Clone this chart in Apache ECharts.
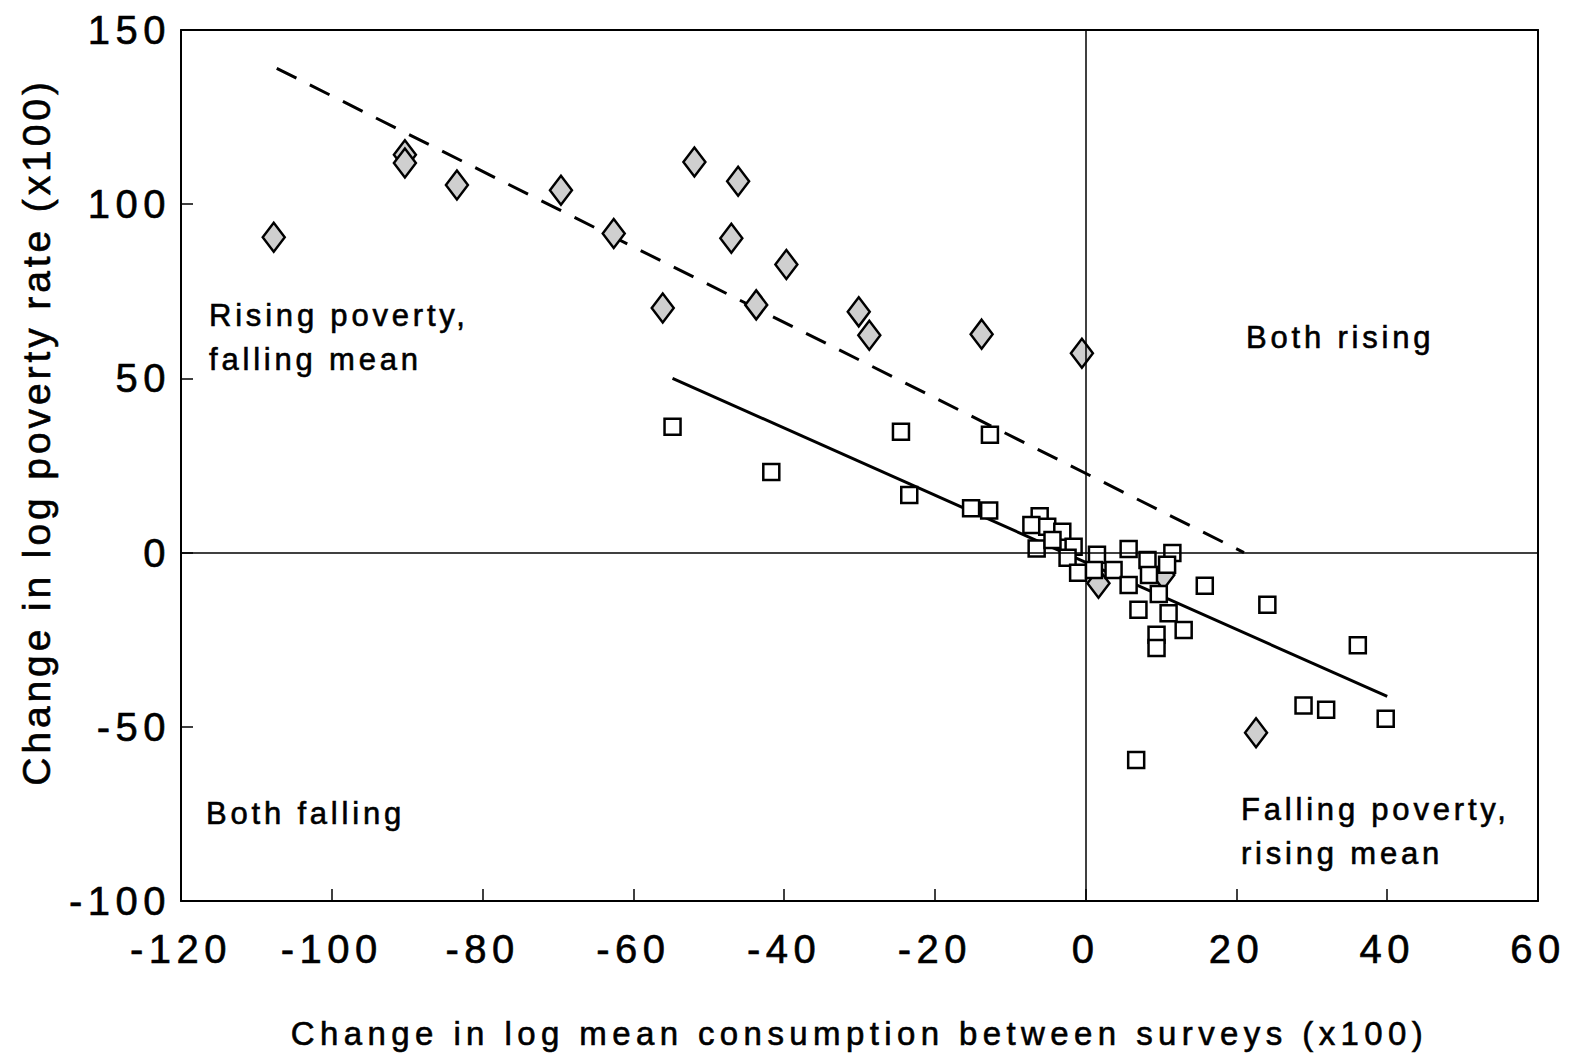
<!DOCTYPE html>
<html>
<head>
<meta charset="utf-8">
<script src="https://cdn.jsdelivr.net/npm/echarts@6/dist/echarts.min.js"></script>
<style>
html,body{margin:0;padding:0;background:#fff;width:1579px;height:1057px;overflow:hidden}
#c{width:1579px;height:1057px;overflow:hidden}
#c svg{display:block}
#c svg text{letter-spacing:4px;stroke:#000;stroke-width:0.6px}
#c svg text[style*="40px"]{letter-spacing:5.5px}
#c svg text[style*="33px"]{letter-spacing:5.4px}
#c svg text[style*="39px"]{letter-spacing:3.9px}
#c svg text[style*="31px"]{letter-spacing:3.8px}
</style>
</head>
<body>
<div id="c"></div>
<script>
// X values: change in log mean consumption (x100); Y values: change in log poverty rate (x100)
const diamondX = [-107.7, -90.3, -90.3, -83.4, -69.6, -62.6, -51.9, -46.1, -47.0, -39.7, -43.7, -56.1, -30.1, -28.7, -13.8, -0.5, 22.6, 1.7, 10.3];
const diamondY = [90.5, 114.2, 111.8, 105.5, 104.0, 91.6, 112.1, 106.6, 90.2, 82.7, 71.1, 70.2, 69.1, 62.4, 62.7, 57.2, -51.7, -8.8, -6.4];
const squareX = [-54.8, -41.7, -24.5, -12.7, -23.4, -15.2, -12.8,
  -6.1, -7.2, -5.1, -3.1, -6.5, -4.4, -1.6, -2.4, -1.0, 1.5, 1.1, 3.7, 5.7, 5.7, 8.2, 8.4, 9.7, 11.5, 10.8, 7.0, 11.0, 13.0, 9.4, 9.4,
  15.8, 24.1, 36.1, 28.9, 31.9, 39.8, 6.7];
const squareY = [36.1, 23.1, 34.7, 33.8, 16.5, 12.7, 12.1,
  10.4, 7.9, 7.4, 6.0, 1.2, 3.6, 1.7, -1.5, -5.8, -0.6, -5.0, -5.0, 1.0, -9.3, -2.1, -6.4, -11.9, -0.1, -3.5, -16.4, -17.4, -22.2, -23.6, -27.4,
  -9.5, -15.0, -26.6, -43.9, -45.1, -47.7, -59.5];
const dashedFitX = [-107.3, 21.0];
const dashedFitY = [139.0, 0.0];
const solidFitX = [-54.8, 40.0];
const solidFitY = [50.0, -41.3];
const xTicks = {min: -120, max: 60, interval: 20};
const yTicks = {min: -100, max: 150, interval: 50};
const xTitle = 'Change in log mean consumption between surveys (x100)';
const yTitle = 'Change in log poverty rate (x100)';

const zip = (a, b) => a.map((v, i) => [v, b[i]]);
const FONT = '"Liberation Sans", Arial, Helvetica, sans-serif';
const chart = echarts.init(document.getElementById('c'), null, {renderer: 'svg'});
const annot = (txt, left, top) => ({
  type: 'text', left: left, top: top,
  style: {text: txt, fontSize: 31, fontFamily: FONT, fill: '#000', lineHeight: 44}
});
chart.setOption({
  animation: false,
  backgroundColor: '#fff',
  grid: {left: 181, right: 41, top: 30, bottom: 156, containLabel: false},
  xAxis: [{
    type: 'value', min: xTicks.min, max: xTicks.max, interval: xTicks.interval,
    axisLine: {show: true, onZero: false, lineStyle: {color: '#000', width: 2}},
    axisTick: {show: true, inside: true, length: 12, lineStyle: {color: '#000', width: 1.5}},
    axisLabel: {color: '#000', fontSize: 40, fontFamily: FONT, margin: 28},
    splitLine: {show: false},
    name: xTitle, nameLocation: 'middle', nameGap: 116,
    nameTextStyle: {color: '#000', fontSize: 33, fontFamily: FONT}
  }, {
    type: 'value', position: 'top', min: xTicks.min, max: xTicks.max,
    axisLine: {show: true, onZero: false, lineStyle: {color: '#000', width: 2}},
    axisTick: {show: false}, axisLabel: {show: false}, splitLine: {show: false}
  }],
  yAxis: [{
    type: 'value', min: yTicks.min, max: yTicks.max, interval: yTicks.interval,
    axisLine: {show: true, onZero: false, lineStyle: {color: '#000', width: 2}},
    axisTick: {show: true, inside: true, length: 12, lineStyle: {color: '#000', width: 1.5}},
    axisLabel: {color: '#000', fontSize: 40, fontFamily: FONT, margin: 10},
    splitLine: {show: false}
  }, {
    type: 'value', position: 'right', min: yTicks.min, max: yTicks.max,
    axisLine: {show: true, onZero: false, lineStyle: {color: '#000', width: 2}},
    axisTick: {show: false}, axisLabel: {show: false}, splitLine: {show: false}
  }],
  graphic: [
    {
      type: 'text', x: 36, y: 432, rotation: Math.PI / 2,
      style: {text: yTitle, fontSize: 39, fontFamily: FONT, fill: '#000', align: 'center', verticalAlign: 'middle'}
    },
    annot('Rising poverty,\nfalling mean', 209, 293),
    annot('Both rising', 1246, 315),
    annot('Both falling', 206, 791),
    annot('Falling poverty,\nrising mean', 1241, 787)
  ],
  series: [
    {
      type: 'line', data: zip(dashedFitX, dashedFitY), symbol: 'none', z: 1,
      lineStyle: {color: '#000', width: 3, type: [22, 15]},
      markLine: {
        silent: true, symbol: 'none', label: {show: false},
        lineStyle: {color: '#000', width: 1.5, type: 'solid'},
        data: [{xAxis: 0}, {yAxis: 0}]
      }
    },
    {
      type: 'line', data: zip(solidFitX, solidFitY), symbol: 'none', z: 1,
      lineStyle: {color: '#000', width: 3, type: 'solid'}
    },
    {
      type: 'scatter', data: zip(diamondX, diamondY), symbol: 'diamond', symbolSize: [22, 29], z: 3,
      itemStyle: {color: '#cfcfcf', borderColor: '#000', borderWidth: 2.5, opacity: 1}
    },
    {
      type: 'scatter', data: zip(squareX, squareY), symbol: 'rect', symbolSize: 16, z: 4,
      itemStyle: {color: '#fff', borderColor: '#000', borderWidth: 2.5, opacity: 1}
    }
  ]
});
</script>
</body>
</html>
